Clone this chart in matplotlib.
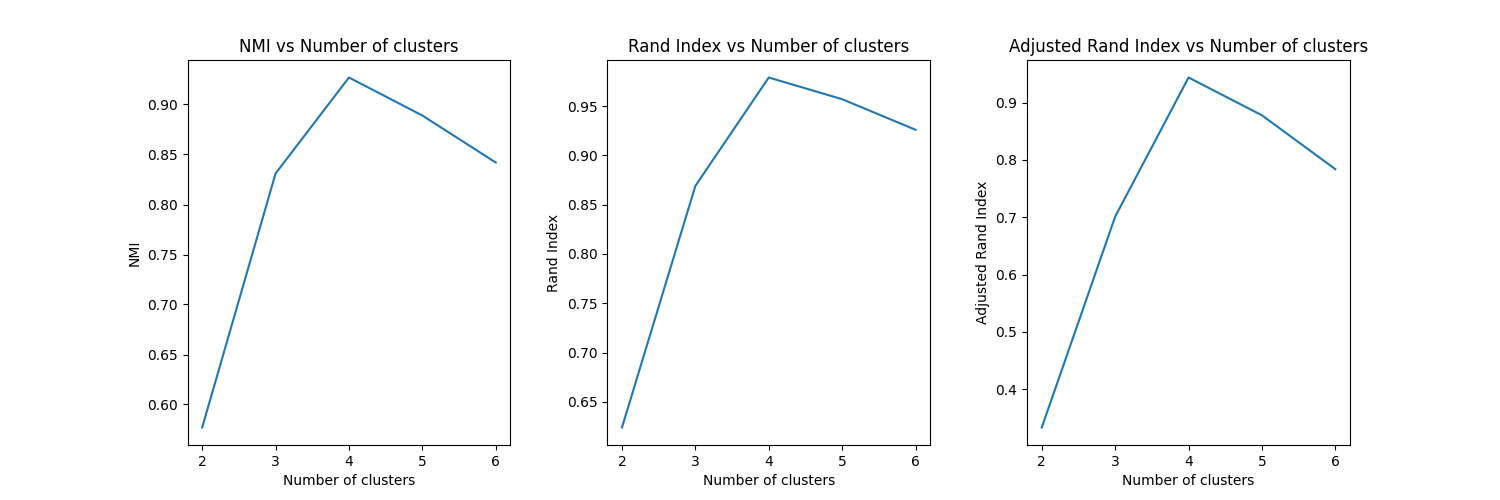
import matplotlib
matplotlib.use("Agg")
import matplotlib.pyplot as plt

clusters = [2, 3, 4, 5, 6]
nmi = [0.577, 0.831, 0.927, 0.889, 0.842]
rand_index = [0.624, 0.869, 0.979, 0.957, 0.926]
adj_rand = [0.333, 0.701, 0.944, 0.878, 0.784]

fig, axes = plt.subplots(1, 3, figsize=(15, 5), dpi=100)
for ax, vals, name in zip(axes, [nmi, rand_index, adj_rand],
                          ["NMI", "Rand Index", "Adjusted Rand Index"]):
    ax.plot(clusters, vals)
    ax.set_title(f"{name} vs Number of clusters")
    ax.set_xlabel("Number of clusters")
    ax.set_ylabel(name)
    ax.set_xticks(clusters)
plt.subplots_adjust(wspace=0.3)
fig.savefig("out.png")
